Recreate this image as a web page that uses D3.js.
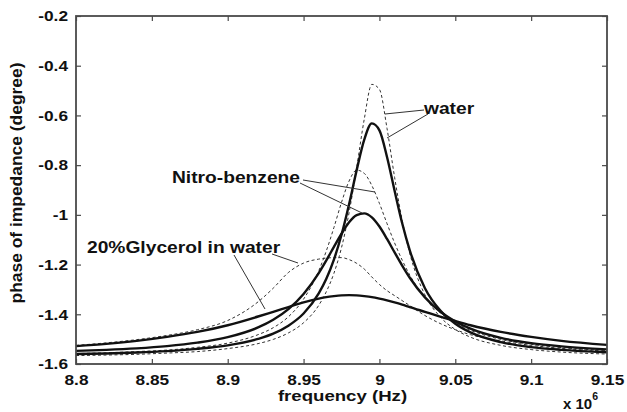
<!DOCTYPE html>
<html><head><meta charset="utf-8">
<script src="https://cdn.jsdelivr.net/npm/d3@7"></script>
<style>
html,body{margin:0;padding:0;background:#fff;}
svg text{font-family:"Liberation Sans",Arial,sans-serif;font-weight:bold;fill:#111;}
</style></head>
<body>
<svg id="chart" width="627" height="412"></svg>
<script>
const freq = [8.80, 8.82, 8.84, 8.86, 8.88, 8.90, 8.92, 8.93, 8.94, 8.95, 8.96, 8.965, 8.97, 8.975, 8.98, 8.985, 8.99, 8.995, 9.00, 9.005, 9.01, 9.015, 9.02, 9.03, 9.04, 9.05, 9.06, 9.08, 9.10, 9.12, 9.15];
const waterSolid = [-1.560,-1.558,-1.554,-1.548,-1.539,-1.525,-1.499,-1.478,-1.446,-1.397,-1.316,-1.257,-1.180,-1.080,-0.957,-0.820,-0.697,-0.632,-0.660,-0.767,-0.903,-1.034,-1.143,-1.295,-1.384,-1.438,-1.473,-1.512,-1.532,-1.543,-1.553];
const waterDashed = [-1.566,-1.564,-1.561,-1.556,-1.550,-1.538,-1.518,-1.501,-1.475,-1.434,-1.364,-1.309,-1.235,-1.132,-0.991,-0.810,-0.615,-0.475,-0.495,-0.652,-0.849,-1.022,-1.155,-1.322,-1.410,-1.461,-1.492,-1.525,-1.542,-1.552,-1.560];
const nitroSolid = [-1.547,-1.543,-1.537,-1.528,-1.514,-1.492,-1.453,-1.422,-1.379,-1.318,-1.234,-1.183,-1.129,-1.076,-1.030,-1.001,-0.994,-1.010,-1.047,-1.097,-1.151,-1.204,-1.253,-1.332,-1.389,-1.429,-1.458,-1.495,-1.516,-1.529,-1.541];
const nitroDashed = [-1.558,-1.555,-1.550,-1.544,-1.533,-1.516,-1.482,-1.454,-1.410,-1.339,-1.225,-1.145,-1.051,-0.950,-0.864,-0.820,-0.833,-0.882,-0.954,-1.035,-1.113,-1.182,-1.242,-1.332,-1.393,-1.435,-1.464,-1.501,-1.521,-1.534,-1.546];
const glycerolSolid = [-1.528,-1.519,-1.507,-1.491,-1.471,-1.444,-1.409,-1.390,-1.371,-1.352,-1.337,-1.331,-1.327,-1.324,-1.323,-1.324,-1.327,-1.331,-1.337,-1.344,-1.352,-1.361,-1.371,-1.390,-1.409,-1.427,-1.444,-1.471,-1.491,-1.507,-1.523];
const glycerolDashed = [-1.525,-1.515,-1.502,-1.485,-1.462,-1.425,-1.350,-1.295,-1.232,-1.194,-1.178,-1.174,-1.172,-1.172,-1.180,-1.195,-1.218,-1.250,-1.280,-1.305,-1.325,-1.345,-1.365,-1.405,-1.437,-1.462,-1.482,-1.507,-1.525,-1.537,-1.548];
const xTicks = [8.8, 8.85, 8.9, 8.95, 9.0, 9.05, 9.1, 9.15];
const xTickLabels = ["8.8","8.85","8.9","8.95","9","9.05","9.1","9.15"];
const yTicks = [-1.6, -1.4, -1.2, -1.0, -0.8, -0.6, -0.4, -0.2];
const yTickLabels = ["-1.6","-1.4","-1.2","-1","-0.8","-0.6","-0.4","-0.2"];
const labels = ["water","Nitro-benzene","20%Glycerol in water"];

const svg = d3.select("#chart");
const L = 76, T = 16, R = 607, B = 364;
const x = d3.scaleLinear().domain([8.8, 9.15]).range([L, R]);
const y = d3.scaleLinear().domain([-1.6, -0.2]).range([B, T]);
const axisColor = "#4a4a4a";

function stretch(sel, k) {
  sel.each(function(){ const w = this.getComputedTextLength(); d3.select(this).attr("textLength", w*k).attr("lengthAdjust","spacingAndGlyphs"); });
}

// curves
const series = [
  {v: glycerolDashed, dash: true}, {v: nitroDashed, dash: true}, {v: waterDashed, dash: true},
  {v: glycerolSolid, dash: false}, {v: nitroSolid, dash: false}, {v: waterSolid, dash: false}
];
const line = d3.line().x((d,i)=>x(freq[i])).y(d=>y(d)).curve(d3.curveMonotoneX);
svg.append("g").selectAll("path").data(series).join("path")
  .attr("d", d => line(d.v))
  .attr("fill","none")
  .attr("stroke", d => d.dash ? "#333" : "#111")
  .attr("stroke-width", d => d.dash ? 1 : 2.4)
  .attr("stroke-dasharray", d => d.dash ? "3,2.5" : null);

// axes with inward ticks
const gx = svg.append("g").attr("transform",`translate(0,${B})`)
  .call(d3.axisBottom(x).tickValues(xTicks).tickFormat((d,i)=>xTickLabels[i]).tickSizeInner(-5).tickSizeOuter(0).tickPadding(10));
const gxt = svg.append("g").attr("transform",`translate(0,${T})`)
  .call(d3.axisTop(x).tickValues(xTicks).tickFormat("").tickSizeInner(-5).tickSizeOuter(0));
const gy = svg.append("g").attr("transform",`translate(${L},0)`)
  .call(d3.axisLeft(y).tickValues(yTicks).tickFormat((d,i)=>yTickLabels[i]).tickSizeInner(-5).tickSizeOuter(0).tickPadding(8));
const gyr = svg.append("g").attr("transform",`translate(${R},0)`)
  .call(d3.axisRight(y).tickValues(yTicks).tickFormat("").tickSizeInner(-5).tickSizeOuter(0));
[gx,gxt,gy,gyr].forEach(g=>{ g.select(".domain").remove(); g.selectAll("line").attr("stroke",axisColor).attr("stroke-width",1.2); });
gx.selectAll("text").attr("font-size",15).attr("fill","#111").attr("dy","0.71em").call(stretch,1.15);
gy.selectAll("text").attr("font-size",15).attr("fill","#111").call(stretch,1.15);
svg.append("rect").attr("x",L).attr("y",T).attr("width",R-L).attr("height",B-T)
  .attr("fill","none").attr("stroke",axisColor).attr("stroke-width",1.8);

// axis titles
svg.append("text").attr("x",(L+R)/2+1).attr("y",401).attr("text-anchor","middle").attr("font-size",15.5).text("frequency (Hz)").call(stretch,1.2);
svg.append("text").attr("transform","translate(22,183) rotate(-90)").attr("text-anchor","middle").attr("font-size",17)
  .attr("textLength",241).attr("lengthAdjust","spacingAndGlyphs").text("phase of impedance (degree)");
const mult = svg.append("text").attr("x",563).attr("y",409).attr("font-size",15);
mult.append("tspan").text("x 10");
mult.append("tspan").attr("dy",-9).attr("font-size",10.5).text("6");

// annotations
const ann = svg.append("g");
const leaders = [
  [[424,110],[385,114]], [[428,114],[387,138]],
  [[303,180],[375,192]], [[300,183],[362,213]],
  [[272,254],[298,263]], [[234,255],[265,309]]
];
ann.selectAll("line").data(leaders).join("line")
  .attr("x1",d=>d[0][0]).attr("y1",d=>d[0][1]).attr("x2",d=>d[1][0]).attr("y2",d=>d[1][1])
  .attr("stroke","#333").attr("stroke-width",1);
ann.append("text").attr("x",424).attr("y",114).attr("font-size",16).text(labels[0]).call(stretch,1.2);
ann.append("text").attr("x",172).attr("y",183).attr("font-size",16).text(labels[1]).call(stretch,1.2);
ann.append("text").attr("x",87).attr("y",253).attr("font-size",16).text(labels[2]).call(stretch,1.2);
</script>
</body></html>
